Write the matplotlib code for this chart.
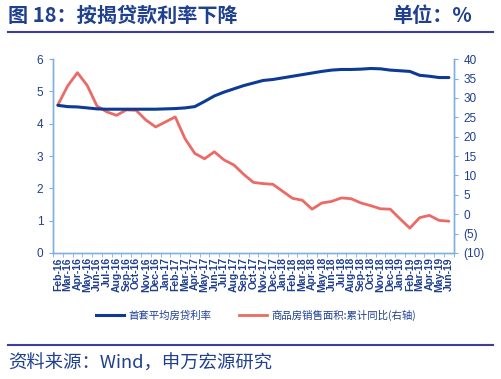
import matplotlib
matplotlib.use("Agg")
import matplotlib.pyplot as plt
from matplotlib.lines import Line2D
import numpy as np

months = ["Feb-16","Mar-16","Apr-16","May-16","Jun-16","Jul-16","Aug-16","Sep-16","Oct-16","Nov-16","Dec-16",
          "Jan-17","Feb-17","Mar-17","Apr-17","May-17","Jun-17","Jul-17","Aug-17","Sep-17","Oct-17","Nov-17","Dec-17",
          "Jan-18","Feb-18","Mar-18","Apr-18","May-18","Jun-18","Jul-18","Aug-18","Sep-18","Oct-18","Nov-18","Dec-18",
          "Jan-19","Feb-19","Mar-19","Apr-19","May-19","Jun-19"]

mortgage_rate = [4.57,4.53,4.52,4.49,4.46,4.45,4.45,4.45,4.45,4.45,4.45,
                 4.46,4.47,4.49,4.53,4.69,4.86,4.98,5.08,5.18,5.26,5.34,5.37,
                 5.42,5.47,5.52,5.57,5.62,5.66,5.68,5.68,5.69,5.71,5.70,5.66,
                 5.64,5.62,5.50,5.47,5.43,5.43]

sales_area_yoy = [28.2,33.1,36.5,33.2,27.9,26.4,25.5,26.9,26.8,24.3,22.5,
                  23.8,25.1,19.5,15.7,14.3,16.1,14.0,12.7,10.3,8.2,7.9,7.7,
                  5.9,4.1,3.6,1.3,2.9,3.3,4.2,4.0,2.9,2.2,1.4,1.3,
                  -1.2,-3.6,-0.9,-0.3,-1.6,-1.8]

left_ticks = [0,1,2,3,4,5,6]
right_ticks = [-10,-5,0,5,10,15,20,25,30,35,40]
right_labels = ["(10)","(5)","0","5","10","15","20","25","30","35","40"]

title = "图 18：按揭贷款利率下降"
unit = "单位：%"
legend_labels = ["首套平均房贷利率", "商品房销售面积:累计同比(右轴)"]
source = "资料来源：Wind，申万宏源研究"

CJK = ["Noto Sans CJK SC", "DejaVu Sans"]
NUM = ["Liberation Sans Narrow", "Liberation Sans", "DejaVu Sans"]
plt.rcParams['font.family'] = CJK

navy = "#0d3a94"
red = "#ec6a66"
axis_c = "#7fb0e0"
text_c = "#1f3f8f"

fig = plt.figure(figsize=(5.02, 3.79), dpi=100)
ax = fig.add_axes([0.1056, 0.3325, 0.7984, 0.5115])
ax2 = ax.twinx()

x = np.arange(len(months))
ax.plot(x, mortgage_rate, color=navy, lw=2.2, solid_capstyle='round', zorder=3)
ax2.plot(x, sales_area_yoy, color=red, lw=2.0, solid_capstyle='round', zorder=2)
ax.set_zorder(ax2.get_zorder() + 1)
ax.patch.set_visible(False)

ax.set_xlim(-0.5, len(months) - 0.5)
ax.set_ylim(0, 6)
ax2.set_ylim(-10, 40)
ax.set_yticks(left_ticks)
ax.set_yticklabels([str(t) for t in left_ticks], family=NUM, fontsize=8.5, color=text_c)
ax2.set_yticks(right_ticks)
ax2.set_yticklabels(right_labels, family=NUM, fontsize=8.5, color=text_c)

ax.set_xticks(x)
ax.set_xticklabels(months, rotation=90, family=NUM, fontsize=7.5, color=text_c, fontweight='bold')
ax.set_xticks(np.arange(-0.5, len(months), 1), minor=True)
ax.tick_params(axis='x', which='major', length=0, pad=3)
ax.tick_params(axis='x', which='minor', length=3, color=axis_c, direction='out')
ax.tick_params(axis='y', length=3, color=axis_c, pad=4)
ax2.tick_params(axis='y', length=3, color=axis_c, pad=4)

for a in (ax, ax2):
    a.spines['top'].set_visible(False)
    for s in ('left', 'right', 'bottom'):
        a.spines[s].set_color(axis_c)
        a.spines[s].set_linewidth(1.0)

# Title and unit
fig.text(0.016, 0.958, title, fontsize=14.5, fontweight='bold', color=text_c, va='center', ha='left')
fig.text(0.94, 0.958, unit, fontsize=14.5, fontweight='bold', color=text_c, va='center', ha='right')
fig.add_artist(Line2D([0.016, 0.982], [0.916, 0.916], color="#3d3f9e", lw=1.5, transform=fig.transFigure))

# Legend
handles = [Line2D([], [], color=navy, lw=2.2), Line2D([], [], color=red, lw=2.0)]
leg = fig.legend(handles, legend_labels, loc='center', bbox_to_anchor=(0.51, 0.168), ncol=2,
                 frameon=False, fontsize=7.5, handlelength=2.7, columnspacing=2.6, handletextpad=0.4)
for t in leg.get_texts():
    t.set_color(text_c)

# Bottom line and source
fig.add_artist(Line2D([0.016, 0.982], [0.09, 0.09], color="#3d3f9e", lw=1.5, transform=fig.transFigure))
fig.text(0.016, 0.04, source, fontsize=13.2, color=text_c, va='center', ha='left')

fig.savefig("out.png", dpi=100)
